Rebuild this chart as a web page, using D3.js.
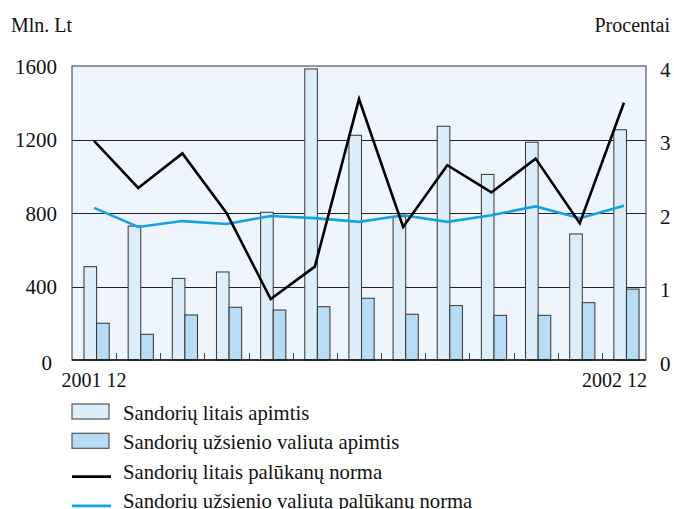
<!DOCTYPE html>
<html>
<head>
<meta charset="utf-8">
<script src="https://cdn.jsdelivr.net/npm/d3@7"></script>
<style>
  body { margin: 0; background: #fff; }
</style>
</head>
<body>
<script>
// months 2001 12 .. 2002 12
var months = ["2001 12", "2002 01", "2002 02", "2002 03", "2002 04", "2002 05", "2002 06",
              "2002 07", "2002 08", "2002 09", "2002 10", "2002 11", "2002 12"];
var litVolume = [508, 729, 444, 479, 804, 1584, 1223, 780, 1272, 1010, 1185, 686, 1253];
var valVolume = [200, 140, 245, 287, 272, 290, 336, 249, 296, 243, 243, 312, 386];
var litRate = [2.98, 2.34, 2.81, 2.00, 0.83, 1.27, 3.55, 1.81, 2.65, 2.28, 2.74, 1.86, 3.50];
var valRate = [2.07, 1.81, 1.89, 1.85, 1.96, 1.93, 1.88, 1.97, 1.88, 1.97, 2.09, 1.93, 2.10];
var leftTicks = [0, 400, 800, 1200, 1600];
var rightTicks = [0, 1, 2, 3, 4];
var xLabels = ["2001 12", "2002 12"];
var legendLabels = ["Sandorių litais apimtis", "Sandorių užsienio valiuta apimtis",
                    "Sandorių litais palūkanų norma", "Sandorių užsienio valiuta palūkanų norma"];

var FONT = "'Liberation Serif', 'Times New Roman', serif";
var W = 674, H = 509;
var margin = {top: 66, right: 28, bottom: 149, left: 72},
    width = W - margin.left - margin.right,
    height = H - margin.top - margin.bottom;

var root = d3.select("body").append("svg")
    .attr("width", W)
    .attr("height", H)
    .style("font-family", FONT);

var svg = root.append("g")
    .attr("transform", "translate(" + margin.left + "," + margin.top + ")");

var x = d3.scaleBand().domain(months).range([0, width]).padding(0);
var x1 = d3.scaleBand().domain(["lit", "val"]).range([12, 37.2]);
var y = d3.scaleLinear().domain([0, 1600]).range([height, 0]);
var y2 = d3.scaleLinear().domain([0, 4]).range([height, 0]);

// plot background
svg.append("rect")
    .attr("width", width)
    .attr("height", height)
    .attr("fill", "#eef5fc");

// gridlines
svg.selectAll(".grid")
    .data(leftTicks.slice(1, 4))
  .enter().append("line")
    .attr("x1", 0).attr("x2", width)
    .attr("y1", function(d) { return Math.round(y(d)) + 0.5; })
    .attr("y2", function(d) { return Math.round(y(d)) + 0.5; })
    .attr("stroke", "#222")
    .attr("stroke-width", 1);

// small ticks between months
svg.selectAll(".mtick")
    .data(months.slice(1))
  .enter().append("line")
    .attr("x1", function(d) { return Math.round(x(d)) + 0.5; })
    .attr("x2", function(d) { return Math.round(x(d)) + 0.5; })
    .attr("y1", height).attr("y2", height - 7)
    .attr("stroke", "#444");

// bars
var g = svg.selectAll(".month")
    .data(months)
  .enter().append("g")
    .attr("transform", function(d) { return "translate(" + x(d) + ",0)"; });

g.append("rect")
    .attr("x", x1("lit"))
    .attr("width", x1.bandwidth())
    .attr("y", function(d, i) { return y(litVolume[i]); })
    .attr("height", function(d, i) { return height - y(litVolume[i]); })
    .attr("fill", "#ddeefb")
    .attr("stroke", "#333")
    .attr("stroke-width", 1);

g.append("rect")
    .attr("x", x1("val"))
    .attr("width", x1.bandwidth())
    .attr("y", function(d, i) { return y(valVolume[i]); })
    .attr("height", function(d, i) { return height - y(valVolume[i]); })
    .attr("fill", "#b6ddf5")
    .attr("stroke", "#333")
    .attr("stroke-width", 1);

// plot border
svg.append("rect")
    .attr("width", width)
    .attr("height", height)
    .attr("fill", "none")
    .attr("stroke", "#555")
    .attr("stroke-width", 1.2);
svg.append("line")
    .attr("x1", 0).attr("x2", width)
    .attr("y1", height).attr("y2", height)
    .attr("stroke", "#111").attr("stroke-width", 1.5);

// lines
var line = function(data) {
  return d3.line()
    .x(function(d, i) { return x(months[i]) + x.bandwidth() / 2; })
    .y(function(d) { return y2(d); })(data);
};

svg.append("path")
    .attr("d", line(valRate))
    .attr("fill", "none")
    .attr("stroke", "#13a2e6")
    .attr("stroke-width", 2.6);

svg.append("path")
    .attr("d", line(litRate))
    .attr("fill", "none")
    .attr("stroke", "#000")
    .attr("stroke-width", 2.6);

// axes
function styleAxis(a, size) {
  a.attr("font-family", null).attr("font-size", null);
  a.select(".domain").remove();
  a.selectAll("text")
      .style("font-family", FONT)
      .style("font-size", size + "px")
      .attr("fill", "#111");
}

var leftAxis = svg.append("g")
    .call(d3.axisLeft(y).tickValues(leftTicks).tickFormat(d3.format("d")).tickSize(0).tickPadding(15));
styleAxis(leftAxis, 21);
leftAxis.selectAll("text").attr("dy", "0.34em");
leftAxis.selectAll(".tick").filter(function(d) { return d === 0; })
    .select("text").attr("dx", -5).attr("dy", "0.45em");

var rightAxis = svg.append("g")
    .attr("transform", "translate(" + width + ",0)")
    .call(d3.axisRight(y2).tickValues(rightTicks).tickFormat(d3.format("d")).tickSize(0).tickPadding(14));
styleAxis(rightAxis, 21);
rightAxis.selectAll("text").attr("dy", "0.48em");

var bottomAxis = svg.append("g")
    .attr("transform", "translate(0," + height + ")")
    .call(d3.axisBottom(x).tickValues(xLabels).tickSize(0).tickPadding(8));
styleAxis(bottomAxis, 20);
bottomAxis.selectAll("text").attr("dy", "0.95em");
bottomAxis.selectAll(".tick").filter(function(d) { return d === xLabels[1]; })
    .select("text")
    .attr("text-anchor", "end")
    .attr("x", width - x(xLabels[1]) - x.bandwidth() / 2 + 1);

// axis titles
svg.append("text")
    .attr("x", -margin.left + 11)
    .attr("y", -34)
    .style("font-size", "20px")
    .attr("fill", "#111")
    .text("Mln. Lt");

svg.append("text")
    .attr("x", width + margin.right - 4)
    .attr("y", -34)
    .attr("text-anchor", "end")
    .style("font-size", "20px")
    .attr("fill", "#111")
    .text("Procentai");

// legend
var legend = root.append("g")
    .attr("transform", "translate(72,404)");

var items = legend.selectAll(".item")
    .data(legendLabels)
  .enter().append("g")
    .attr("transform", function(d, i) { return "translate(0," + (i * 29.3) + ")"; });

items.filter(function(d, i) { return i < 2; })
  .append("rect")
    .attr("width", 37)
    .attr("height", 15)
    .attr("fill", function(d, i) { return i === 0 ? "#ddeefb" : "#b6ddf5"; })
    .attr("stroke", "#555")
    .attr("stroke-width", 1.2);

items.filter(function(d, i) { return i >= 2; })
  .append("line")
    .attr("x1", 0).attr("x2", 39)
    .attr("y1", 14).attr("y2", 14)
    .attr("stroke", function(d, i) { return i === 0 ? "#000" : "#13a2e6"; })
    .attr("stroke-width", 2.6);

items.append("text")
    .attr("x", 51)
    .attr("y", 16)
    .style("font-size", "20.7px")
    .attr("fill", "#111")
    .text(function(d) { return d; });
</script>
</body>
</html>
